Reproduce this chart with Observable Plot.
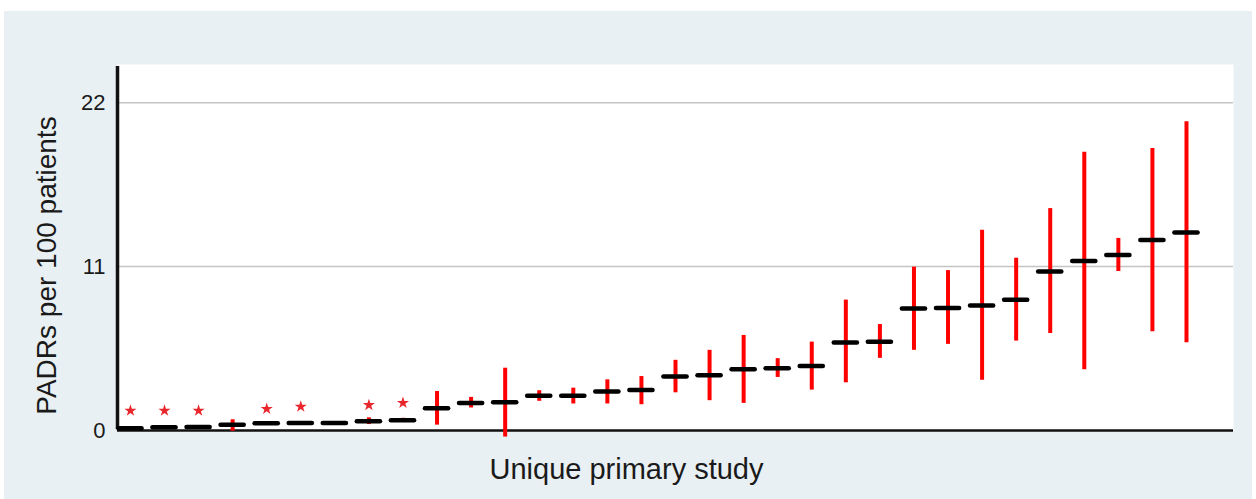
<!DOCTYPE html>
<html>
<head>
<meta charset="utf-8">
<script src="https://cdn.jsdelivr.net/npm/d3@7"></script>
<script src="https://cdn.jsdelivr.net/npm/@observablehq/plot@0.6"></script>
<style>
  html, body { margin: 0; padding: 0; background: #ffffff; }
  #wrap { position: absolute; left: 4px; top: 11px; width: 1248px; height: 488px; background: #e9f0f3; }
  svg { display: block; }
</style>
</head>
<body>
<div id="wrap"></div>
<script>
// Studies (x positions are just their rank)
const studies = [1,2,3,4,5,6,7,8,9,10,11,12,13,14,15,16,17,18,19,20,21,22,23,24,25,26,27,28,29,30,31,32];
// Point estimate (PADRs per 100 patients)
const means = [0.15,0.22,0.24,0.38,0.49,0.51,0.51,0.62,0.69,1.49,1.84,1.89,2.33,2.33,2.62,2.71,3.62,3.71,4.11,4.18,4.33,5.91,5.96,8.18,8.22,8.38,8.78,10.67,11.38,11.78,12.78,13.29];
// 95% CI lower / upper (null = not shown)
const lower = [null,null,null,-0.05,null,null,null,0.4,0.55,0.36,1.51,-0.44,1.96,1.78,1.78,1.73,2.53,2.0,1.82,3.56,2.71,3.2,4.84,5.38,5.78,3.38,6.0,6.51,4.07,10.67,6.62,5.89];
const upper = [null,null,null,0.72,null,null,null,0.85,0.82,2.62,2.22,4.18,2.67,2.84,3.4,3.62,4.71,5.38,6.38,4.82,5.93,8.75,7.11,10.96,10.73,13.44,11.56,14.89,18.67,12.89,18.93,20.71];
// Studies flagged with a star, and the star heights
const starStudies = [1,2,3,5,6,8,9];
const starY = [1.33,1.33,1.33,1.45,1.6,1.71,1.85];
const yTicks = [0, 11, 22];
const yLabel = "PADRs per 100 patients";
const xLabel = "Unique primary study";

const rows = studies.map((s, i) => ({study: s, mean: means[i], lo: lower[i], hi: upper[i]}));
const ciRows = rows.filter(d => d.lo != null && d.hi != null);
const stars = starStudies.map((s, i) => ({study: s, y: starY[i]}));

const xMin = 0.62, xMax = 33.38;
const font = "'Liberation Sans', Arial, Helvetica, sans-serif";

const chart = Plot.plot({
  width: 1248,
  height: 488,
  marginLeft: 113,
  marginRight: 19,
  marginTop: 53,
  marginBottom: 69,
  style: {fontFamily: font, background: "transparent", color: "#1a1a1a"},
  x: {domain: [xMin, xMax], axis: null},
  y: {domain: [0, 24.56]},
  marks: [
    Plot.frame({fill: "white", stroke: "none"}),
    Plot.ruleY(yTicks.filter(t => t > 0), {stroke: "#c4c4c4", strokeWidth: 1.5}),
    Plot.axisY({ticks: yTicks, tickSize: 0, tickPadding: 12, fontSize: 22, label: null}),
    Plot.ruleY([0], {stroke: "#111", strokeWidth: 2.5}),
    Plot.ruleX([xMin], {y1: 0, y2: 24.56, stroke: "#111", strokeWidth: 3.5, insetTop: -1, insetBottom: -2}),
    Plot.ruleX(ciRows, {x: "study", y1: "lo", y2: "hi", stroke: "#ff0000", strokeWidth: 4}),
    Plot.ruleY(rows, {y: "mean", x1: d => d.study - 0.34, x2: d => d.study + 0.34, stroke: "#000", strokeWidth: 4.5, strokeLinecap: "round"}),
    Plot.dot(stars, {x: "study", y: "y", symbol: "star", r: 3.8, fill: "#e8262b", stroke: "none"}),
    Plot.text([yLabel], {frameAnchor: "left", textAnchor: "middle", rotate: -90, dx: -70, dy: 18, fontSize: 28, fill: "#1a1a1a"}),
    Plot.text([xLabel], {frameAnchor: "bottom", dx: -49, dy: 48, fontSize: 29, fill: "#1a1a1a"})
  ]
});
document.getElementById("wrap").appendChild(chart);
</script>
</body>
</html>
